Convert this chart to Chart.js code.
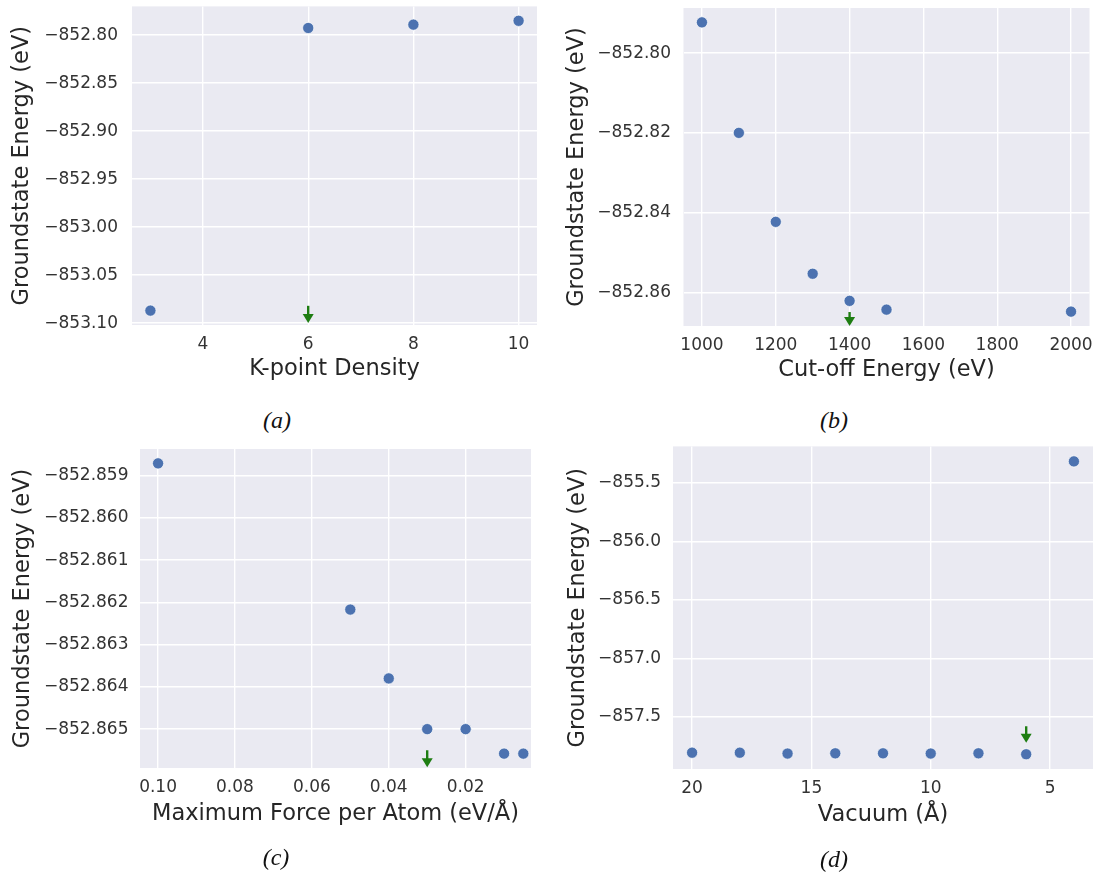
<!DOCTYPE html>
<html>
<head>
<meta charset="utf-8">
<script src="https://cdn.jsdelivr.net/npm/chart.js@4.4.1/dist/chart.umd.min.js"></script>
<style>
  html, body { margin: 0; padding: 0; background: #ffffff; }
  body { width: 1104px; height: 882px; position: relative; overflow: hidden; }
  canvas { position: absolute; display: block; }
  .cap {
    position: absolute;
    font-family: "Liberation Serif", "DejaVu Serif", serif;
    font-style: italic;
    font-size: 24px;
    color: #111111;
    transform: translate(-50%, -50%);
    white-space: nowrap;
  }
</style>
</head>
<body>
<canvas id="kpoint"></canvas>
<canvas id="cutoff"></canvas>
<canvas id="force"></canvas>
<canvas id="vacuum"></canvas>
<div class="cap" style="left:277px; top:420px;">(a)</div>
<div class="cap" style="left:834px; top:420px;">(b)</div>
<div class="cap" style="left:276px; top:857px;">(c)</div>
<div class="cap" style="left:834px; top:859px;">(d)</div>

<script>
// ---- convergence data: ground-state energy (eV) for each test parameter ----
const kpointDensity = [3, 6, 8, 10];
const kpointEnergy  = [-853.087, -852.7925, -852.789, -852.785];

const cutoffEnergy       = [1000, 1100, 1200, 1300, 1400, 1500, 2000];
const cutoffGroundEnergy = [-852.7923, -852.8200, -852.8423, -852.8553, -852.8621, -852.8643, -852.8648];

const maxForce    = [0.10, 0.05, 0.04, 0.03, 0.02, 0.01, 0.005];
const forceEnergy = [-852.85871, -852.86217, -852.86380, -852.86500, -852.86500, -852.86558, -852.86558];

const vacuumSize   = [20, 18, 16, 14, 12, 10, 8, 6, 4];
const vacuumEnergy = [-857.806, -857.806, -857.813, -857.811, -857.811, -857.813, -857.811, -857.819, -855.318];

// ---- tick values ----
const kpointTicksX = [4, 6, 8, 10];
const kpointTicksY = [-852.80, -852.85, -852.90, -852.95, -853.00, -853.05, -853.10];
const cutoffTicksX = [1000, 1200, 1400, 1600, 1800, 2000];
const cutoffTicksY = [-852.80, -852.82, -852.84, -852.86];
const forceTicksX  = [0.10, 0.08, 0.06, 0.04, 0.02];
const forceTicksY  = [-852.859, -852.860, -852.861, -852.862, -852.863, -852.864, -852.865];
const vacuumTicksX = [20, 15, 10, 5];
const vacuumTicksY = [-855.5, -856.0, -856.5, -857.0, -857.5];

// ---- chosen setting per test (green arrow): x, arrow tail energy, arrow tip energy ----
const chosenX         = [6, 1400, 0.03, 6];
const chosenArrowFrom = [-853.082, -852.8649, -852.8655, -857.58];
const chosenArrowTo   = [-853.100, -852.8684, -852.86590, -857.72];

// ---- styling ----
const FONT = "'DejaVu Sans', Verdana, sans-serif";
const TICK_SIZE = 17;
const TITLE_SIZE = 22.5;
const TITLE_LH = TITLE_SIZE * 1.2;
const PANEL_BG = '#EAEAF2';
const DOT = '#4C72B0';
const ARROW = '#1E7D12';

const fmt = (v, d) => v.toFixed(d).replace('-', '\u2212');

const panelBackground = {
  id: 'panelBackground',
  beforeDraw(chart) {
    const { ctx, chartArea: a } = chart;
    ctx.save();
    ctx.fillStyle = PANEL_BG;
    ctx.fillRect(a.left, a.top, a.right - a.left, a.bottom - a.top);
    ctx.restore();
  }
};

const choiceArrow = {
  id: 'choiceArrow',
  afterDatasetsDraw(chart, args, opts) {
    if (opts.x === undefined || opts.x === null) return;
    const { ctx, scales } = chart;
    const px = scales.x.getPixelForValue(opts.x);
    const y0 = scales.y.getPixelForValue(opts.from);
    const y1 = scales.y.getPixelForValue(opts.to);
    const headLen = 9, halfW = 5.5;
    ctx.save();
    ctx.strokeStyle = ARROW;
    ctx.fillStyle = ARROW;
    ctx.lineWidth = 2.4;
    ctx.beginPath();
    ctx.moveTo(px, y0);
    ctx.lineTo(px, y1 - headLen + 1);
    ctx.stroke();
    ctx.beginPath();
    ctx.moveTo(px - halfW, y1 - headLen);
    ctx.lineTo(px + halfW, y1 - headLen);
    ctx.lineTo(px, y1);
    ctx.closePath();
    ctx.fill();
    ctx.restore();
  }
};

// Builds one scatter panel whose plotting area sits at `area` (page pixels).
function makePanel(id, cfg) {
  const canvas = document.getElementById(id);
  const c = cfg.canvas, a = cfg.area;
  canvas.width = c.w;
  canvas.height = c.h;
  canvas.style.left = c.x + 'px';
  canvas.style.top = c.y + 'px';
  canvas.style.width = c.w + 'px';
  canvas.style.height = c.h + 'px';

  const yBoxLeft = cfg.yTitleX - TITLE_LH / 2;       // page x of y-axis box left
  const xBoxBottom = cfg.xTitleY + TITLE_LH / 2;     // page y of x-axis box bottom
  const yWidth = a.l - yBoxLeft;
  const xHeight = xBoxBottom - a.b;

  const zeroPad = s => { s.paddingTop = 0; s.paddingBottom = 0; s.paddingLeft = 0; s.paddingRight = 0; };

  return new Chart(canvas, {
    type: 'scatter',
    data: {
      datasets: [{
        data: cfg.xs.map((x, i) => ({ x: x, y: cfg.ys[i] })),
        backgroundColor: DOT,
        borderColor: 'rgba(255,255,255,0.85)',
        borderWidth: 0.8,
        pointRadius: 5.6,
        pointHoverRadius: 5.6
      }]
    },
    options: {
      responsive: false,
      animation: false,
      devicePixelRatio: 1,
      layout: {
        padding: {
          left: yBoxLeft - c.x,
          top: a.t - c.y,
          right: c.x + c.w - a.r,
          bottom: c.y + c.h - xBoxBottom
        }
      },
      plugins: {
        legend: { display: false },
        tooltip: { enabled: false },
        choiceArrow: { x: cfg.arrow.x, from: cfg.arrow.from, to: cfg.arrow.to }
      },
      scales: {
        x: {
          type: 'linear',
          position: 'bottom',
          min: cfg.xRange[0],
          max: cfg.xRange[1],
          reverse: !!cfg.xReverse,
          afterBuildTicks: s => { s.ticks = cfg.xTicks.map(v => ({ value: v })); },
          afterFit: s => { s.height = xHeight; zeroPad(s); },
          border: { display: false },
          grid: { color: '#FFFFFF', lineWidth: 1.4, drawTicks: false },
          ticks: {
            autoSkip: false, maxRotation: 0, padding: 9,
            color: '#333333', font: { family: FONT, size: TICK_SIZE },
            callback: v => fmt(v, cfg.xDec)
          },
          title: {
            display: true, text: cfg.xTitle, padding: 0,
            color: '#262626', font: { family: FONT, size: TITLE_SIZE }
          }
        },
        y: {
          type: 'linear',
          position: 'left',
          min: cfg.yRange[0],
          max: cfg.yRange[1],
          afterBuildTicks: s => { s.ticks = cfg.yTicks.map(v => ({ value: v })); },
          afterFit: s => { s.width = yWidth; zeroPad(s); },
          border: { display: false },
          grid: { color: '#FFFFFF', lineWidth: 1.4, drawTicks: false },
          ticks: {
            autoSkip: false, padding: cfg.yPad,
            color: '#333333', font: { family: FONT, size: TICK_SIZE },
            callback: v => fmt(v, cfg.yDec)
          },
          title: {
            display: true, text: 'Groundstate Energy (eV)', padding: 0,
            color: '#262626', font: { family: FONT, size: TITLE_SIZE }
          }
        }
      }
    },
    plugins: [panelBackground, choiceArrow]
  });
}

makePanel('kpoint', {
  canvas: { x: 0, y: 0, w: 552, h: 400 },
  area: { l: 132, t: 4, r: 537, b: 325 },
  yTitleX: 22, xTitleY: 369, yPad: 14,
  xs: kpointDensity, ys: kpointEnergy,
  xRange: [2.65, 10.35], yRange: [-853.102, -852.770],
  xTicks: kpointTicksX, yTicks: kpointTicksY, xDec: 0, yDec: 2,
  xTitle: 'K-point Density',
  arrow: { x: chosenX[0], from: chosenArrowFrom[0], to: chosenArrowTo[0] }
});

makePanel('cutoff', {
  canvas: { x: 552, y: 0, w: 552, h: 400 },
  area: { l: 683.5, t: 8, r: 1089.5, b: 326 },
  yTitleX: 577, xTitleY: 370, yPad: 12.5,
  xs: cutoffEnergy, ys: cutoffGroundEnergy,
  xRange: [950, 2050], yRange: [-852.8684, -852.7887],
  xTicks: cutoffTicksX, yTicks: cutoffTicksY, xDec: 0, yDec: 2,
  xTitle: 'Cut-off Energy (eV)',
  arrow: { x: chosenX[1], from: chosenArrowFrom[1], to: chosenArrowTo[1] }
});

makePanel('force', {
  canvas: { x: 0, y: 440, w: 552, h: 442 },
  area: { l: 140, t: 449, r: 531, b: 768 },
  yTitleX: 23, xTitleY: 814, yPad: 11.5,
  xs: maxForce, ys: forceEnergy,
  xRange: [0.003, 0.1047], xReverse: true, yRange: [-852.86592, -852.85837],
  xTicks: forceTicksX, yTicks: forceTicksY, xDec: 2, yDec: 3,
  xTitle: 'Maximum Force per Atom (eV/\u00C5)',
  arrow: { x: chosenX[2], from: chosenArrowFrom[2], to: chosenArrowTo[2] }
});

makePanel('vacuum', {
  canvas: { x: 552, y: 440, w: 552, h: 442 },
  area: { l: 673, t: 445, r: 1093, b: 769 },
  yTitleX: 578, xTitleY: 815, yPad: 12,
  xs: vacuumSize, ys: vacuumEnergy,
  xRange: [3.2, 20.8], xReverse: true, yRange: [-857.945, -855.19],
  xTicks: vacuumTicksX, yTicks: vacuumTicksY, xDec: 0, yDec: 1,
  xTitle: 'Vacuum (\u00C5)',
  arrow: { x: chosenX[3], from: chosenArrowFrom[3], to: chosenArrowTo[3] }
});
</script>
</body>
</html>
